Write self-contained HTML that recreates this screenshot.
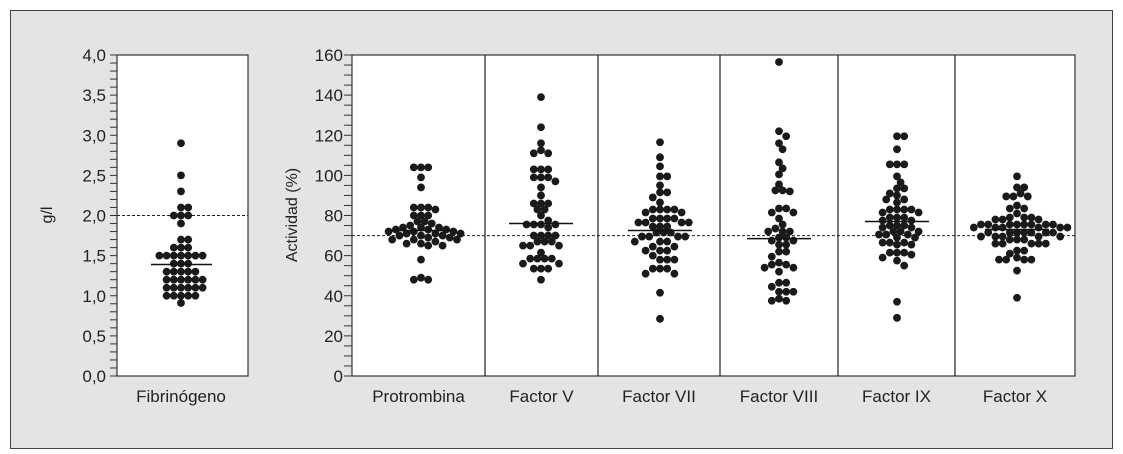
<!DOCTYPE html>
<html><head><meta charset="utf-8">
<style>
html,body{margin:0;padding:0;background:#fff;}
svg{display:block;font-family:"Liberation Sans",Arial,sans-serif;}
</style></head>
<body>
<svg id="chart" width="1123" height="454" viewBox="0 0 1123 454">
  <rect x="0" y="0" width="1123" height="454" fill="#fff"/>
  <rect x="10.5" y="10.5" width="1102" height="438" fill="#e4e4e4" stroke="#444" stroke-width="1"/>
  <rect x="117" y="55" width="131" height="321" fill="#fff" stroke="#333" stroke-width="1.2"/>
  <rect x="352" y="55" width="723" height="321" fill="#fff" stroke="#333" stroke-width="1.2"/>
  <g id="layer"></g>
</svg>
<script>
// ---- data ----
const leftTicks = ["0,0","0,5","1,0","1,5","2,0","2,5","3,0","3,5","4,0"];
const rightTicks = ["0","20","40","60","80","100","120","140","160"];
const fibrinogen = [2.9,2.5,2.3,2.1,2.1,2.0,2.0,2.0,1.9,1.7,1.7,1.6,1.6,1.6,1.5,1.5,1.5,1.5,1.5,1.5,1.5,1.4,1.4,1.4,1.3,1.3,1.3,1.3,1.3,1.2,1.2,1.2,1.2,1.2,1.2,1.1,1.1,1.1,1.1,1.1,1.1,1.0,1.0,1.0,1.0,1.0,0.91];
const fibrinogenMedian = 1.39;
const fibrinogenRef = 2.0;
const categories = ["Protrombina","Factor V","Factor VII","Factor VIII","Factor IX","Factor X"];
const protrombina = [104,104,104,99,94,84,84,84,83,80,80,80,77,77,76,75,74,74,74,73,73,73,72,72,72,71,71,71,70,70,70,69,69,68,68,68,67,66,66,65,65,58,49,48,48];
const factorV = [139,124,116,112.5,111,111,103,103,103,99,99,99,97,94,90,86,86,86,83,83,80,77.5,75.5,75.5,75.5,75.5,74,70,70,70,70,67,67,67,65,65,65,61.5,58.5,58.5,58.5,58.5,56,56,53.5,53.5,53.5,48];
const factorVII = [116.5,109,104.5,99.5,99.5,95,91.5,91.5,89,86.5,83,83,83,83,81.5,81.5,78.5,78.5,78.5,78.5,76.5,76.5,76.5,76.5,74.5,74.5,74.5,71.5,71.5,71.5,69.5,69.5,69.5,69.5,67,67,67,64.5,64.5,62.5,62.5,62.5,60,58,58,58,53.5,53.5,53.5,51,51,41.5,28.5];
const factorVIII = [156.5,122,119.5,116,113,106.5,103.5,100.5,95.5,92.5,92.5,92,83.5,83.5,81.5,81.5,78.5,75.5,73.5,72,72,72,69,69,67.5,67.5,65.5,65.5,62,62,59.5,56.5,55.5,55.5,54,54,52,46.5,46.5,44.5,42,42,42,38.5,37.5,37.5];
const factorIX = [119.5,119.5,113,105.5,105.5,105.5,99.5,96.5,93.5,93.5,91,90,88,88,86.5,83,83,83,83,81.5,81.5,79,79,79,77.5,77.5,75,75,75,74,74,72,72,72,70.5,70.5,70.5,69,69,66.5,66.5,66.5,65.5,65.5,61.5,61.5,61.5,60.5,59,57.5,55,37,29];
const factorX = [99.5,94,94,91,89.5,89.5,89.5,85,83.5,83.5,81,79,79,79,78,78,78,75.5,75.5,75.5,75.5,75.5,75.5,75.5,75.5,74,74,74,74,74,74,71.5,71.5,71.5,71.5,71.5,71.5,71.5,69.5,69.5,69.5,69.5,69.5,68,68,68,66,66,66,66,66,62.5,62.5,61,59,58,58,58,58,52.5,39];
const seriesValues = [protrombina,factorV,factorVII,factorVIII,factorIX,factorX];
const medians = [72.5,76,72.5,68.5,77,73];
const refActivity = 70;

// ---- geometry ----
const NS="http://www.w3.org/2000/svg";
const layer=document.getElementById('layer');
const plotTop=55, plotBottom=376;
const yLeft=v=>plotBottom-(plotBottom-plotTop)*v/4;
const yRight=v=>plotBottom-(plotBottom-plotTop)*v/160;
const panels=[[352,485],[485,598],[598,720],[720,838],[838,955],[955,1075]];
const centers=[421,541,660,779,897,1017];
function mk(tag,attrs,parent){const e=document.createElementNS(NS,tag);for(const k in attrs)e.setAttribute(k,attrs[k]);(parent||layer).appendChild(e);return e;}

// axes ticks
leftTicks.forEach((t,i)=>{
  for(let m=0;m<5&&(i<8||m==0);m++){
    const y=yLeft(i*0.5+m*0.1);
    const tk=mk('line',{x1:110,x2:117,y1:y,y2:y,stroke:'#333','stroke-width':1});
    
    
  }
  const tx=mk('text',{x:106,y:yLeft(i*0.5)+6,'text-anchor':'end','font-size':17,fill:'#222'});
  tx.textContent=t;
  
  
});
rightTicks.forEach((t,i)=>{
  for(let m=0;m<4&&(i<8||m==0);m++){
    const y=yRight(i*20+m*5);
    const tk=mk('line',{x1:344,x2:352,y1:y,y2:y,stroke:'#333','stroke-width':1});
    
    
  }
  const tx=mk('text',{x:343,y:yRight(i*20)+6,'text-anchor':'end','font-size':17,fill:'#222'});
  tx.textContent=t;
  
  
});
let yt=mk('text',{x:0,y:0,'font-size':16,fill:'#222','text-anchor':'middle',transform:'translate(52,215) rotate(-90)'});
yt.textContent='g/l';


yt=mk('text',{x:0,y:0,'font-size':16,fill:'#222','text-anchor':'middle',transform:'translate(297,215) rotate(-90)'});
yt.textContent='Actividad (%)';



// dividers
panels.slice(1).forEach(p=>{
  const d=mk('line',{x1:p[0],x2:p[0],y1:plotTop,y2:plotBottom,stroke:'#222','stroke-width':1.2});
  
  
});

// reference lines
let rl=mk('line',{x1:117,x2:248,y1:yLeft(fibrinogenRef),y2:yLeft(fibrinogenRef),stroke:'#222','stroke-dasharray':'3,2','stroke-width':1});


rl=mk('line',{x1:352,x2:1075,y1:yRight(refActivity),y2:yRight(refActivity),stroke:'#222','stroke-dasharray':'3,2','stroke-width':1});



// beeswarm
const R=3.9, D=6.3, STEP=3.6;
function swarm(vals,cx,yf,name){
  const placed=[];
  const sorted=vals.slice().sort((a,b)=>b-a);
  sorted.forEach(v=>{
    const y=yf(v);
    let x=cx;
    for(let k=0;k<40;k++){
      const off=(k===0?0:Math.ceil(k/2)*(k%2?1:-1))*STEP;
      const tx=cx+off;
      if(placed.every(p=>(p[0]-tx)**2+(p[1]-y)**2>=D*D)){x=tx;break;}
    }
    placed.push([x,y]);
    const c=mk('circle',{cx:x,cy:y,r:R,fill:'#1a1a1a'});
    
    
  });
}
swarm(fibrinogen,181,yLeft,'fibrinogen');
let ml=mk('line',{x1:151,x2:212,y1:yLeft(fibrinogenMedian),y2:yLeft(fibrinogenMedian),stroke:'#111','stroke-width':1.5});


let lab=mk('text',{x:181,y:402,'text-anchor':'middle','font-size':17,fill:'#222'});
lab.textContent='Fibrinógeno';



categories.forEach((c,i)=>{
  const key=c.toLowerCase().replace(/\s+/g,'-');
  swarm(seriesValues[i],centers[i],yRight,key);
  const m=mk('line',{x1:centers[i]-32,x2:centers[i]+32,y1:yRight(medians[i]),y2:yRight(medians[i]),stroke:'#111','stroke-width':1.5});
  
  
  const t=mk('text',{x:(panels[i][0]+panels[i][1])/2,y:402,'text-anchor':'middle','font-size':17,fill:'#222'});
  t.textContent=c;
  
  
});
</script>
</body></html>
